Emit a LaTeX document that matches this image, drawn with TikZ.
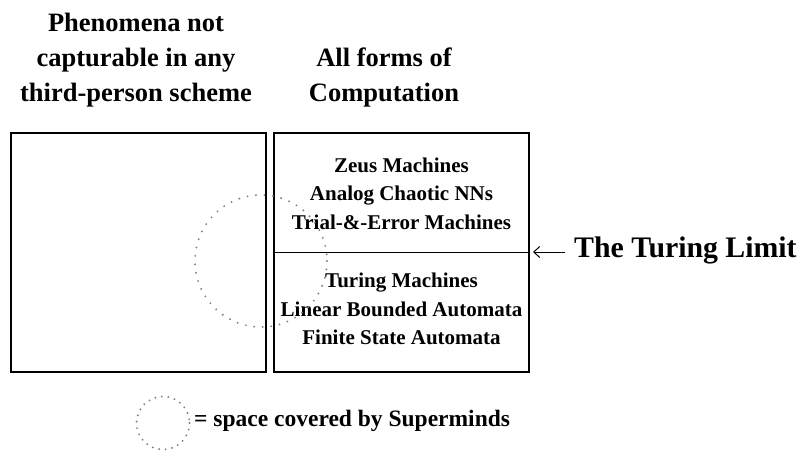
\documentclass[tikz,border=0pt]{standalone}
\usepackage{fontspec}
\setmainfont{Liberation Serif}
\usetikzlibrary{arrows.meta,positioning}

\begin{document}
\begin{tikzpicture}[
    x=1pt, y=-1pt,
    box/.style={rectangle, draw, line width=1.5pt, inner sep=0pt},
    heading/.style={font=\fontsize{26.5}{35}\selectfont\bfseries, align=center, inner sep=0pt},
    machines/.style={font=\fontsize{21}{28.5}\selectfont\bfseries, align=center, inner sep=0pt},
    limit/.style={font=\fontsize{29.8}{34}\selectfont\bfseries, inner sep=0pt},
    supermind/.style={draw=black!50, line width=2.1pt, line cap=round, dash pattern=on 0pt off 8.5pt},
    arrow/.style={line width=1pt, -{Straight Barb[length=6pt, width=11pt]}}
]
\useasboundingbox (0,0) rectangle (802,450);

% Headings
\node[heading] (phenomena) at (136,60) {Phenomena not\\capturable in any\\third-person scheme};
\node[heading] (computation) at (384,77.5) {All forms of\\Computation};

% Boxes
\node[box, minimum width=255pt, minimum height=239pt] (outside) at (138.5,252.5) {};
\node[box, minimum width=255pt, minimum height=119.5pt] (upper) at (401.5,192.75) {};
\node[box, minimum width=255pt, minimum height=119.5pt] (lower) at (401.5,312.25) {};

% Machines above and below the limit
\node[machines] (hyper) at (401.5,193.5) {Zeus Machines\\Analog Chaotic NNs\\Trial-\&-Error Machines};
\node[machines] (turing) at (401.5,309) {Turing Machines\\Linear Bounded Automata\\Finite State Automata};

% Turing limit
\node[limit, anchor=west] (limitlabel) at (574,250) {The Turing Limit};
\coordinate (limitend) at (533,252);
\draw[arrow] (limitlabel.west |- limitend) ++(-9,0) -- (limitend);

% Superminds
\draw[supermind] (261,261) circle (66);

% Legend
\draw[supermind, dash pattern=on 0pt off 6.5pt] (163,423) circle (26.5);
\node[font=\fontsize{23.5}{28}\selectfont\bfseries, anchor=west, inner sep=0pt] (legend) at (194,421) {= space covered by Superminds};

\end{tikzpicture}
\end{document}
